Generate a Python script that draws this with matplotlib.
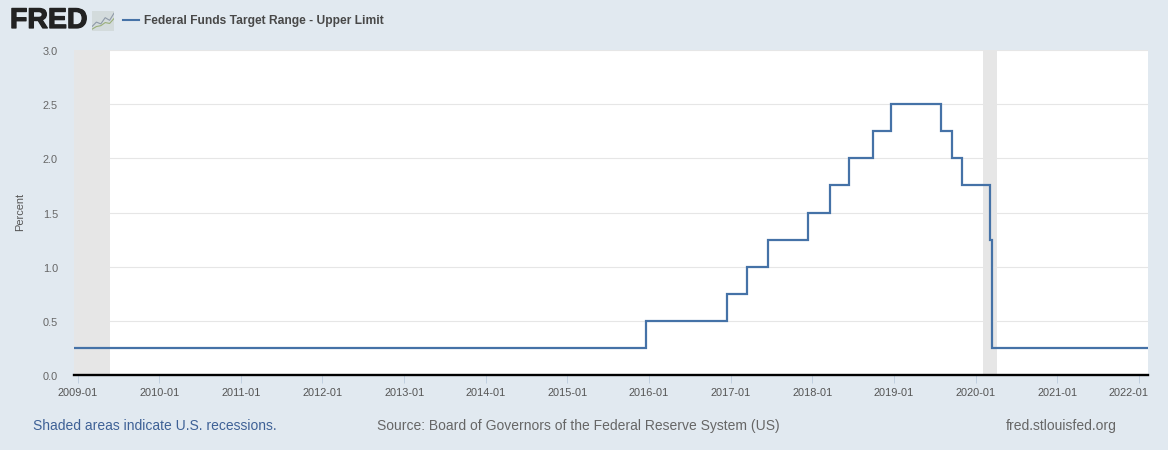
import matplotlib
matplotlib.use("Agg")
import matplotlib.pyplot as plt
import matplotlib.dates as mdates
import matplotlib.patheffects as pe
from matplotlib.transforms import ScaledTranslation
import pandas as pd

plt.rcParams["font.family"] = ["Liberation Sans", "DejaVu Sans"]

# target range changes (upper limit)
change_dates = ["2008-12-16", "2015-12-17", "2016-12-15", "2017-03-16", "2017-06-15",
                "2017-12-14", "2018-03-22", "2018-06-14", "2018-09-27", "2018-12-20",
                "2019-08-01", "2019-09-19", "2019-10-31", "2020-03-04", "2020-03-16",
                "2022-02-10"]
upper_limit = [0.25, 0.50, 0.75, 1.00, 1.25, 1.50, 1.75, 2.00, 2.25, 2.50,
               2.25, 2.00, 1.75, 1.25, 0.25, 0.25]

recession_start = ["2008-12-16", "2020-02-03"]
recession_end = ["2009-05-25", "2020-04-04"]

y_ticks = [0.0, 0.5, 1.0, 1.5, 2.0, 2.5, 3.0]
x_tick_years = list(range(2009, 2023))

bg = "#e1e9f0"
W, H = 1168, 450

fig = plt.figure(figsize=(W / 100, H / 100), dpi=100, facecolor=bg)
ax = fig.add_axes([74 / W, 1 - 375 / H, (1148 - 74) / W, (375 - 50) / H])

dates = pd.to_datetime(change_dates)
ax.plot(dates, upper_limit, drawstyle="steps-post", color="#4572a7", lw=1.6, zorder=3,
        solid_joinstyle="miter", solid_capstyle="butt")

for s, e in zip(recession_start, recession_end):
    ax.axvspan(pd.Timestamp(s), pd.Timestamp(e), color="#e6e6e6", lw=0, zorder=1)

ax.set_xlim(dates[0], dates[-1])
ax.set_ylim(0, 3)
ax.set_yticks(y_ticks)
ax.set_yticklabels([f"{v:.1f}" for v in y_ticks])
ax.set_xticks([pd.Timestamp(f"{y}-01-01") for y in x_tick_years])
ax.xaxis.set_major_formatter(mdates.DateFormatter("%Y-%m"))

ax.grid(axis="y", color="#e6e6e6", lw=0.8, zorder=2)
ax.set_axisbelow(False)
for side in ["top", "left", "right"]:
    ax.spines[side].set_visible(False)
ax.spines["bottom"].set_color("black")
ax.spines["bottom"].set_linewidth(1.7)
ax.spines["bottom"].set_zorder(4)

ax.tick_params(axis="y", length=0, pad=11.5, labelsize=7.9, labelcolor="#666666")
ax.tick_params(axis="x", length=6, width=0.7, color="#c0d0e0", pad=3,
               labelsize=7.9, labelcolor="#555555")

# y labels sit a pixel low in the original
down_1px = ScaledTranslation(0, -1 / 100, fig.dpi_scale_trans)
for lab in ax.get_yticklabels():
    lab.set_transform(lab.get_transform() + down_1px)

# last label is pushed back inside the chart
fig.canvas.draw()
last_lab = ax.get_xticklabels()[-1]
last_lab.set_ha("right")
last_lab.set_transform(last_lab.get_transform() + ScaledTranslation(9 / 100, 0, fig.dpi_scale_trans))

fig.text(20 / W, 1 - 212 / H, "Percent", rotation=90, ha="center", va="center",
         fontsize=7.9, color="#555555")

# header
fig.text(10 / W, 1 - 21 / H, "FRED", ha="left", va="center", fontsize=20.5,
         fontweight="bold", color="#222222",
         path_effects=[pe.withStroke(linewidth=0.9, foreground="#222222")])
icon = fig.add_axes([92 / W, 1 - 31 / H, 22 / W, 20 / H], facecolor="#d3dbdc")
icon.plot([0, 1, 2, 3, 4, 5], [1.0, 2.0, 1.6, 3.0, 2.4, 4.0], color="#8f9aa8", lw=0.8)
icon.plot([0, 1, 2, 3, 4, 5], [0.4, 1.0, 1.2, 1.9, 1.7, 2.8], color="#9aaf7a", lw=0.8)
icon.set_xlim(0, 5)
icon.set_ylim(0, 4.5)
icon.set_xticks([])
icon.set_yticks([])
for sp in icon.spines.values():
    sp.set_visible(False)

fig.add_artist(plt.Line2D([123 / W, 139 / W], [1 - 20 / H, 1 - 20 / H], color="#4572a7", lw=1.5))
fig.text(144 / W, 1 - 24 / H, "Federal Funds Target Range - Upper Limit", ha="left", va="baseline",
         fontsize=8.65, fontweight="bold", color="#484848")

# footer
fig.text(33 / W, 1 - 430 / H, "Shaded areas indicate U.S. recessions.", ha="left", va="baseline",
         fontsize=10, color="#3e6196")
fig.text(377 / W, 1 - 430 / H, "Source: Board of Governors of the Federal Reserve System (US)",
         ha="left", va="baseline", fontsize=10, color="#666666")
fig.text(1006 / W, 1 - 430 / H, "fred.stlouisfed.org", ha="left", va="baseline",
         fontsize=10, color="#666666")

fig.savefig("out.png", dpi=100, facecolor=bg)
